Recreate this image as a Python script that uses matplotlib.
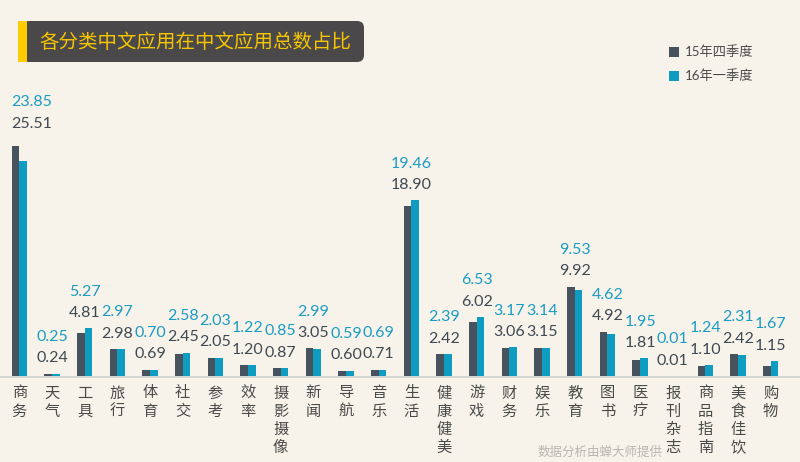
import matplotlib
matplotlib.use("Agg")
import matplotlib.pyplot as plt
from matplotlib.patches import FancyBboxPatch, Rectangle
import numpy as np

categories = ["商务", "天气", "工具", "旅行", "体育", "社交", "参考", "效率", "摄影摄像", "新闻",
              "导航", "音乐", "生活", "健康健美", "游戏", "财务", "娱乐", "教育", "图书", "医疗",
              "报刊杂志", "商品指南", "美食佳饮", "购物"]
q4_2015 = [25.51, 0.24, 4.81, 2.98, 0.69, 2.45, 2.05, 1.20, 0.87, 3.05,
           0.60, 0.71, 18.90, 2.42, 6.02, 3.06, 3.15, 9.92, 4.92, 1.81,
           0.01, 1.10, 2.42, 1.15]
q1_2016 = [23.85, 0.25, 5.27, 2.97, 0.70, 2.58, 2.03, 1.22, 0.85, 2.99,
           0.59, 0.69, 19.46, 2.39, 6.53, 3.17, 3.14, 9.53, 4.62, 1.95,
           0.01, 1.24, 2.31, 1.67]
series_names = ["15年四季度", "16年一季度"]
title = "各分类中文应用在中文应用总数占比"
source = "数据分析由蝉大师提供"

BG = "#f7f3ea"
DARK = "#46535f"
CYAN = "#0e9cc0"
TXT = "#4a4a4a"
FONTS = ["Lato", "Noto Sans CJK SC", "DejaVu Sans"]
CJK = ["Noto Sans CJK SC", "DejaVu Sans"]

W, H = 800, 462
fig = plt.figure(figsize=(W / 100, H / 100), dpi=100, facecolor=BG)

# main axes: baseline at y=376 px from top
ax_bottom = 86
ax_top = 100
ax = fig.add_axes([3 / W, ax_bottom / H, 784 / W, (H - ax_top - ax_bottom) / H])
ax.set_facecolor("none")
px_per_unit = 9.02
ax.set_ylim(0, (H - ax_top - ax_bottom) / px_per_unit)
ax.set_xlim(-0.5, len(categories) - 0.5)

x = np.arange(len(categories))
bw = 0.23
ax.bar(x - bw / 2, q4_2015, width=bw, color=DARK, zorder=3)
ax.bar(x + bw / 2, q1_2016, width=bw, color=CYAN, zorder=3)

for i, (a, b) in enumerate(zip(q4_2015, q1_2016)):
    top = max(a, b)
    dx = 9 if i == 0 else 0
    dy = 5 if i == 0 else 0
    ax.annotate(f"{a:.2f}", (i, top), xytext=(dx, 11 + dy), textcoords="offset points",
                ha="center", va="center", fontsize=11.5, color="#3f4952",
                family=FONTS, annotation_clip=False)
    ax.annotate(f"{b:.2f}", (i, top), xytext=(dx, 26.5 + dy), textcoords="offset points",
                ha="center", va="center", fontsize=11.5, color="#1a9cc4",
                family=FONTS, annotation_clip=False)

for s in ax.spines.values():
    s.set_visible(False)
ax.set_xticks([])
ax.set_yticks([])

# overlay in pixel coordinates
ov = fig.add_axes([0, 0, 1, 1], zorder=-1)
ov.set_xlim(0, W)
ov.set_ylim(H, 0)
ov.axis("off")
ov.set_facecolor("none")

# baseline
ov.plot([0, W], [376.5, 376.5], color="#cfcfcf", lw=1.2)

# category labels vertical, one character per line
for i, c in enumerate(categories):
    cx = 3 + (i + 0.5) * 784 / len(categories)
    for j, ch in enumerate(c):
        ov.text(cx, 393 + 18.3 * j, ch, ha="center", va="center", fontsize=11,
                color=TXT, family=CJK)

# title box
box = FancyBboxPatch((22, 21), 342, 41, boxstyle="round,pad=0,rounding_size=7",
                     facecolor="#4a4849", edgecolor="none")
ov.add_patch(box)
ov.add_patch(Rectangle((18, 21), 9, 41, facecolor="#ffcc00", edgecolor="none"))
ov.text(195, 42, title, ha="center", va="center", fontsize=14,
        color="#f7c600", family=CJK)

# legend
ov.add_patch(Rectangle((669, 47), 10, 10, facecolor=DARK, edgecolor="none"))
ov.add_patch(Rectangle((669, 71), 10, 10, facecolor=CYAN, edgecolor="none"))
ov.text(685, 52, series_names[0], ha="left", va="center", fontsize=9.5, color=TXT, family=FONTS)
ov.text(685, 76, series_names[1], ha="left", va="center", fontsize=9.5, color=TXT, family=FONTS)

# source
ov.text(600, 452, source, ha="center", va="center", fontsize=9, color="#b9b6b0", family=CJK)

fig.savefig("out.png", dpi=100, facecolor=BG)
